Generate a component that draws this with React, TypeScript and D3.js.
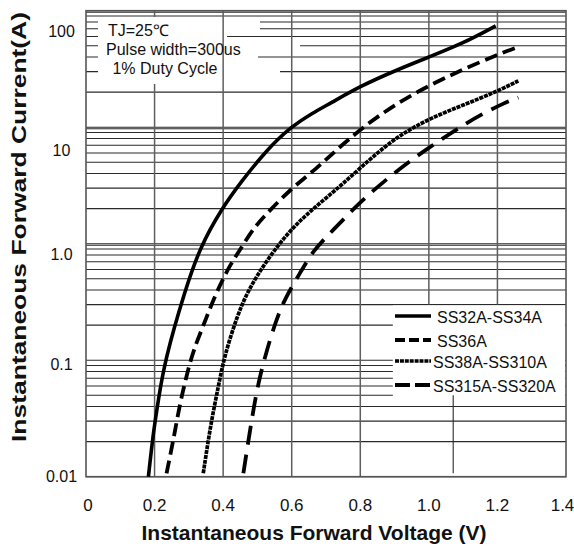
import React from "react";
import * as d3 from "d3";

// ---- data ----
const xTickValues = [0, 0.2, 0.4, 0.6, 0.8, 1.0, 1.2, 1.4];
const xTickLabels = ["0", "0.2", "0.4", "0.6", "0.8", "1.0", "1.2", "1.4"];
const yTickLabels = ["100", "10", "1.0", "0.1", "0.01"];
// value where each y tick label sits (labels are printed slightly below their grid lines)
const yTickLabelAt = [67, 6.35, 0.82, 0.092, 0.01];
const decades = [0.01, 0.1, 1, 10];
const extraGridLines = [97, 9.7, 0.97];

const seriesNames = ["SS32A-SS34A", "SS36A", "SS38A-SS310A", "SS315A-SS320A"];

const ss32: [number, number][] = [
  [0.182, 0.01], [0.196, 0.0236], [0.211, 0.0455], [0.23, 0.1],
  [0.289, 0.4], [0.333, 0.94], [0.396, 2.0], [0.449, 3.3],
  [0.527, 6.4], [0.6, 10.2], [0.66, 13.2], [0.712, 16], [0.801, 22.6],
  [0.906, 31], [1.0, 40], [1.1, 52.5], [1.195, 74],
];
const ss36: [number, number][] = [
  [0.235, 0.0107], [0.255, 0.0207], [0.274, 0.0427], [0.294, 0.0746], [0.313, 0.122],
  [0.347, 0.214], [0.376, 0.36], [0.42, 0.66], [0.449, 0.88], [0.488, 1.36],
  [0.537, 1.95], [0.605, 3.09], [0.673, 4.43], [0.731, 6.4], [0.809, 10.1],
  [0.906, 16], [1.003, 23], [1.1, 31.4], [1.198, 41.7], [1.261, 49],
];
const ss38: [number, number][] = [
  [0.342, 0.0107], [0.364, 0.0287], [0.386, 0.059], [0.403, 0.107], [0.44, 0.236],
  [0.473, 0.4], [0.527, 0.72], [0.595, 1.31], [0.663, 2.01], [0.741, 3.09],
  [0.857, 6.37], [0.925, 8.87], [1.003, 11.9], [1.1, 15.5], [1.198, 20.2], [1.261, 25],
];
const ss315: [number, number][] = [
  [0.459, 0.0107], [0.483, 0.0307], [0.502, 0.063], [0.522, 0.107], [0.551, 0.207],
  [0.58, 0.34], [0.624, 0.557], [0.663, 0.88], [0.717, 1.27], [0.8, 2.3],
  [0.9, 4.1], [1.003, 6.8], [1.1, 10.4], [1.149, 12.7], [1.217, 16], [1.261, 18],
];
const seriesData = [ss32, ss36, ss38, ss315];

const annotationLines = ["TJ=25℃", "Pulse width=300us", " 1% Duty Cycle"];

// ---- layout ----
const W = 574;
const H = 548;
const L = 86, R = 566, T = 10.7, B = 476.7;
const FONT = "'Liberation Sans', Arial, Helvetica, sans-serif";

const styles = [
  { dash: undefined as string | undefined, width: 3.6, cap: "butt" },
  { dash: "13,6", width: 3.8, cap: "butt" },
  { dash: "4,0.9", width: 3.7, cap: "butt" },
  { dash: "19,10", width: 3.8, cap: "butt" },
];
const legendDash = [undefined, "10,4", "4,0.9", "15,5"];

export default function App() {
  const x = d3.scaleLinear().domain([0, 1.4]).range([L, R]);
  const y = d3.scaleLog().domain([0.01, 100]).range([B, T]);

  const hValues: number[] = [];
  decades.forEach((d) => {
    for (let k = 1; k <= 9; k++) hValues.push(d * k);
  });
  hValues.push(100);

  const line = d3
    .line<[number, number]>()
    .x((d) => x(d[0]))
    .y((d) => y(d[1]))
    .curve(d3.curveBasis);

  const gridH = "#2a2a2a";
  const gridV = "#5e5e5e";

  // vertical grid lines: 1.0 and 1.2 stop at 0.3 A (above the legend)
  const vLines = xTickValues.slice(1, -1).map((v) => ({
    v,
    y2: v >= 0.99 ? y(0.3) : B,
  }));

  const legendTop = y(0.3) + 0.8;
  const legendBottom = y(0.04) - 0.8;
  const legendLeft = x(0.895);

  return (
    <svg
      width={W}
      height={H}
      style={{ position: "absolute", left: 0, top: 0, background: "#fff" }}
      fontFamily={FONT}
    >
      <rect x={0} y={0} width={W} height={H} fill="#fff" />

      {/* horizontal grid */}
      {hValues.concat(extraGridLines).map((v, i) => (
        <line key={"h" + i} x1={L} x2={R} y1={y(v)} y2={y(v)} stroke={gridH} strokeWidth={1.1} />
      ))}

      {/* masks behind annotation (horizontal lines only) */}
      <rect x={222} y={17} width={38} height={16} fill="#fff" />
      <rect x={222} y={33} width={5} height={7} fill="#fff" />
      <rect x={222} y={40} width={78} height={11} fill="#fff" />
      <rect x={222} y={51} width={36} height={11} fill="#fff" />
      <rect x={222} y={62} width={58} height={22} fill="#fff" />

      {/* legend box mask */}
      <rect x={legendLeft} y={legendTop} width={R - legendLeft - 0.8} height={legendBottom - legendTop} fill="#fff" />

      {/* vertical grid */}
      {vLines.map((d, i) => (
        <line key={"v" + i} x1={x(d.v)} x2={x(d.v)} y1={T} y2={d.y2} stroke={gridV} strokeWidth={1.5} />
      ))}
      <line x1={x(1.071)} x2={x(1.071)} y1={y(0.05)} y2={y(0.0107)} stroke={gridH} strokeWidth={1.1} />

      {/* annotation box */}
      <rect x={98} y={17} width={124} height={67} fill="#fff" />
      {annotationLines.map((t, i) => (
        <text
          key={"a" + i}
          x={i === 1 ? 106 : 108}
          y={36 + i * 19}
          fontSize={16}
          fill="#111"
          style={{ whiteSpace: "pre" }}
        >
          {t}
        </text>
      ))}

      {/* frame */}
      <rect x={L} y={T} width={R - L} height={B - T} fill="none" stroke="#555" strokeWidth={1.6} />

      {/* curves */}
      {seriesData.map((s, i) => (
        <path
          key={"s" + i}
          d={line(s) || ""}
          fill="none"
          stroke="#000"
          strokeWidth={styles[i].width}
          strokeDasharray={styles[i].dash}
          strokeLinecap={styles[i].cap as any}
        />
      ))}

      {/* legend */}
      {seriesNames.map((n, i) => {
        const by = [323, 347, 368, 392][i];
        return (
          <g key={"l" + i}>
            <line
              x1={395}
              x2={431}
              y1={by - 7}
              y2={by - 7}
              stroke="#000"
              strokeWidth={styles[i].width}
              strokeDasharray={legendDash[i]}
            />
            <text x={i < 2 ? 437 : 433} y={by} fontSize={16} fill="#111">
              {n}
            </text>
          </g>
        );
      })}

      {/* x tick labels */}
      {xTickValues.map((v, i) => (
        <text
          key={"xt" + i}
          x={Math.min(x(v) + (i === 0 ? 2 : 0), W - 11.5)}
          y={511}
          fontSize={17}
          textAnchor="middle"
          fill="#111"
        >
          {xTickLabels[i]}
        </text>
      ))}

      {/* y tick labels */}
      {yTickLabels.map((t, i) => (
        <text
          key={"yt" + i}
          x={61.5}
          y={y(yTickLabelAt[i])}
          dy="0.36em"
          fontSize={16}
          textAnchor="middle"
          fill="#111"
        >
          {t}
        </text>
      ))}

      {/* axis titles */}
      <text x={314} y={540} fontSize={21} fontWeight="bold" textAnchor="middle" fill="#111">
        Instantaneous Forward Voltage (V)
      </text>
      <text
        transform="translate(26,227) rotate(-90)"
        fontSize={21}
        fontWeight="bold"
        textAnchor="middle"
        textLength={430}
        lengthAdjust="spacingAndGlyphs"
        fill="#111"
      >
        Instantaneous Forward Current(A)
      </text>
    </svg>
  );
}
